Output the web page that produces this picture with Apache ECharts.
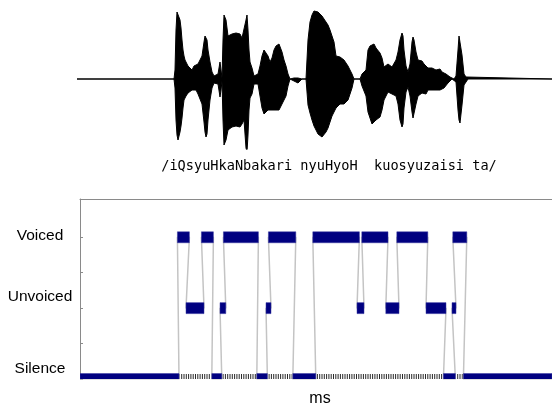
<!DOCTYPE html>
<html>
<head>
<meta charset="utf-8">
<script src="https://cdn.jsdelivr.net/npm/echarts@6/dist/echarts.min.js"></script>
<style>html,body{margin:0;padding:0;background:#fff}#c{width:552px;height:408px}</style>
</head>
<body>
<div id="c"></div>
<script>
// ---- Waveform envelope (time in ms, amplitude units) ----
const waveTime = [-15,470,475,480,485,490,495,500,505,510,515,520,525,530,540,550,560,570,580,590,600,610,620,625,630,635,640,650,660,670,680,690,700,705,710,715,720,725,730,740,750,760,770,780,790,800,810,820,830,835,840,845,850,860,870,880,890,900,910,920,930,940,950,960,970,980,990,995,1000,1010,1020,1030,1040,1050,1060,1070,1080,1090,1100,1110,1130,1140,1150,1160,1170,1180,1190,1200,1210,1220,1230,1240,1250,1260,1270,1280,1290,1300,1310,1320,1330,1340,1350,1360,1370,1400,1410,1415,1420,1430,1440,1450,1460,1470,1480,1490,1500,1510,1520,1530,1540,1550,1560,1570,1580,1590,1600,1610,1615,1620,1630,1640,1650,1660,1665,1670,1680,1690,1700,1710,1720,1730,1740,1750,1760,1770,1780,1790,1800,1810,1820,1830,1840,1850,1860,1870,1880,1890,1895,1900,1905,1910,1920,1930,1940,2360];
const waveUp = [0,0,9,49,67,69,65,59,51,39,29,23,19,17,13,11,9,13,11,15,17,23,37,43,44,39,29,17,7,3,2,5,17,9,1,39,64,66,59,43,41,45,45,46,47,45,41,39,59,64,49,29,17,11,3,2,5,13,23,29,29,23,17,21,29,33,35,35,33,27,19,13,5,0,0,1,1,1,1,0,0,39,57,64,68,69,67,65,63,61,57,54,49,43,37,23,22,22,21,19,17,13,9,5,0,0,5,7,5,9,29,33,34,35,31,29,26,21,12,13,15,16,12,13,19,27,39,46,43,29,13,7,15,37,42,39,27,19,17,18,15,13,11,9,11,13,9,11,10,7,9,5,3,2,0,0,3,29,43,45,43,24,5,2,0,0];
const waveDown = [0,0,-9,-41,-56,-61,-59,-53,-47,-39,-29,-21,-19,-17,-14,-13,-11,-13,-11,-15,-17,-25,-43,-53,-58,-55,-41,-21,-9,-4,-3,-5,-18,-11,-2,-41,-66,-68,-61,-51,-49,-48,-48,-47,-48,-48,-45,-41,-69,-73,-56,-31,-19,-15,-5,-3,-5,-17,-29,-35,-36,-31,-33,-31,-29,-31,-33,-31,-29,-25,-21,-17,-7,0,0,-2,-4,-4,-2,0,0,-26,-34,-41,-47,-51,-55,-57,-58,-57,-53,-49,-43,-37,-33,-29,-27,-25,-25,-25,-25,-21,-15,-9,0,0,-7,-9,-7,-17,-33,-39,-45,-46,-41,-39,-38,-31,-21,-17,-13,-11,-15,-13,-17,-25,-41,-48,-45,-29,-13,-8,-17,-33,-39,-37,-25,-17,-15,-14,-13,-15,-11,-13,-11,-13,-11,-9,-11,-9,-9,-7,-4,-3,0,0,-3,-31,-41,-44,-43,-26,-6,-3,0,0];

// ---- Voicing segments (ms) ----
const levelNames = ['Silence', 'Unvoiced', 'Voiced'];
const levelTicks = [0, 0.5, 1, 1.5, 2];
const levelLabels = [0, 1, 2];
const segStart = [0, 487, 530, 607, 659, 700, 717, 884, 930, 942, 1064, 1164, 1385, 1409, 1529, 1584, 1730, 1817, 1860, 1864, 1917];
const segEnd   = [495, 547, 620, 667, 709, 729, 892, 937, 955, 1079, 1179, 1397, 1420, 1540, 1595, 1739, 1830, 1877, 1880, 1934, 2360];
const segLevel = [0, 2, 1, 2, 0, 1, 2, 0, 1, 2, 0, 2, 1, 2, 1, 2, 1, 0, 1, 2, 0];
const phonemeText = '/iQsyuHkaNbakari nyuHyoH  kuosyuzaisi ta/';
const xAxisName = 'ms';
const timeMax = 2360;

const upData = waveTime.map((t, i) => [t, waveUp[i]]);
const downData = waveTime.map((t, i) => [t, waveDown[i]]);
const segData = segStart.map((s, i) => [s, segEnd[i], segLevel[i]]);
const connector = [];
segStart.forEach((s, i) => { connector.push([s, segLevel[i]]); connector.push([segEnd[i], segLevel[i]]); });

const chart = echarts.init(document.getElementById('c'), null, {renderer: 'canvas'});
chart.setOption({
  animation: false,
  backgroundColor: '#ffffff',
  grid: [
    {left: 77, right: 0, top: 9, height: 140},
    {left: 80, right: 0, top: 199, height: 181}
  ],
  xAxis: [
    {gridIndex: 0, type: 'value', min: -15, max: timeMax, show: false},
    {gridIndex: 1, type: 'value', min: 0, max: timeMax, position: 'bottom',
     axisLine: {show: false}, axisTick: {show: false}, axisLabel: {show: false}, splitLine: {show: false},
     name: xAxisName, nameLocation: 'middle', nameGap: 12,
     nameTextStyle: {fontFamily: 'Liberation Sans', fontSize: 16, color: '#000', padding: [0, 0, 0, 8]}},
    {gridIndex: 1, type: 'value', min: 0, max: timeMax, position: 'top',
     axisLine: {show: true, lineStyle: {color: '#8a8a8a', width: 1}}, axisTick: {show: false},
     axisLabel: {show: false}, splitLine: {show: false}}
  ],
  yAxis: [
    {gridIndex: 0, type: 'value', min: -70, max: 70, show: false},
    {gridIndex: 1, type: 'value', min: 0, max: 2.54,
     axisLine: {show: true, lineStyle: {color: '#8a8a8a', width: 1}},
     axisTick: {show: true, inside: true, length: 3, lineStyle: {color: '#8a8a8a'}, customValues: levelTicks},
     splitLine: {show: false},
     axisLabel: {
       customValues: levelLabels,
       margin: 40, align: 'center', color: '#000', fontFamily: 'Liberation Sans', fontSize: 15.5,
       formatter: function (v) {
         if (v === 2) return '{v|' + levelNames[2] + '}';
         if (v === 1) return '{u|' + levelNames[1] + '}';
         if (v === 0) return '{s|' + levelNames[0] + '}';
         return '';
       },
       rich: {
         v: {fontFamily: 'Liberation Sans', fontSize: 15.5, color: '#000', padding: [0, 0, 3, 0]},
         u: {fontFamily: 'Liberation Sans', fontSize: 15.5, color: '#000', padding: [0, 0, 22, 0]},
         s: {fontFamily: 'Liberation Sans', fontSize: 15.5, color: '#000', padding: [0, 0, 20, 0]}
       }
     }}
  ],
  graphic: [
    {type: 'text', x: 329, y: 166, style: {text: phonemeText, textAlign: 'center', textVerticalAlign: 'middle',
      font: '13.6px "DejaVu Sans Mono"', fill: '#000'}}
  ],
  series: [
    {type: 'line', xAxisIndex: 0, yAxisIndex: 0, data: upData, showSymbol: false, symbol: 'none',
     lineStyle: {color: '#000', width: 1}, areaStyle: {color: '#000', opacity: 1}, z: 2},
    {type: 'line', xAxisIndex: 0, yAxisIndex: 0, data: downData, showSymbol: false, symbol: 'none',
     lineStyle: {color: '#000', width: 1}, areaStyle: {color: '#000', opacity: 1}, z: 2},
    // hatched strip along the silence level
    {type: 'custom', xAxisIndex: 1, yAxisIndex: 1, data: [[0, timeMax, 0]], clip: true, z: 1,
     encode: {x: [0, 1], y: 2},
     renderItem: function (params, api) {
       const a = api.coord([api.value(0), api.value(2)]);
       const b = api.coord([api.value(1), api.value(2)]);
       return {type: 'line', shape: {x1: a[0], y1: a[1] - 2.5, x2: b[0], y2: b[1] - 2.5},
               style: {stroke: '#2a2a2a', lineWidth: 5, lineDash: [1, 1.3]}};
     }},
    {type: 'line', xAxisIndex: 1, yAxisIndex: 1, data: connector, showSymbol: false, symbol: 'none',
     clip: true, lineStyle: {color: '#c4c4c4', width: 1.5}, z: 2},
    {type: 'custom', xAxisIndex: 1, yAxisIndex: 1, data: segData, clip: true, z: 3,
     encode: {x: [0, 1], y: 2},
     renderItem: function (params, api) {
       const a = api.coord([api.value(0), api.value(2)]);
       const b = api.coord([api.value(1), api.value(2)]);
       const h = 11;
       return {type: 'rect', shape: {x: a[0], y: a[1] - h / 2, width: b[0] - a[0], height: h},
               style: {fill: '#000080', stroke: '#3a3aa0', lineWidth: 0.5}};
     }}
  ]
});
</script>
</body>
</html>
